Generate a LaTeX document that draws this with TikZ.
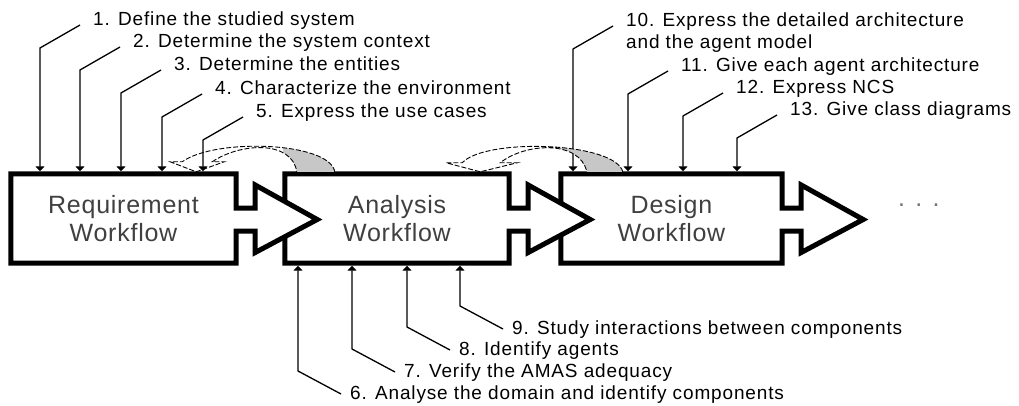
\documentclass[tikz,border=0pt]{standalone}
\usepackage{fontspec}
\setmainfont{Liberation Sans}
\newfontfamily\lblfont[LetterSpace=4.5]{Liberation Sans}
\newfontfamily\boxfont[LetterSpace=3]{Liberation Sans}
\usetikzlibrary{arrows.meta,calc}
\pgfdeclarelayer{background}
\pgfsetlayers{background,main}
\newcommand\wfshape[1]{%
  \draw[wf] (#1.north west) -- (#1.north east) -- ($(#1.east)+(0,-10.5)$)
    -- ($(#1.east)+(19,-10.5)$) -- ($(#1.east)+(19,-33.5)$)
    -- ($(#1.east)+(81,1)$) -- ($(#1.east)+(19,34)$)
    -- ($(#1.east)+(19,12.5)$) -- ($(#1.east)+(0,12.5)$)
    -- (#1.south east) -- (#1.south west) -- cycle;}
\begin{document}
\begin{tikzpicture}[x=1pt,y=-1pt,
  wf/.style={draw=black,line width=5pt,fill=white,miter limit=10},
  boxtxt/.style={font=\boxfont\fontsize{25}{28}\selectfont,text=black!75,
    align=center,inner sep=0pt,minimum height=89pt},
  lbl/.style={anchor=base west,inner sep=0pt,font=\lblfont\fontsize{19}{22}\selectfont},
  lead/.style={line width=1.3pt,shorten >=2.5pt,-{Triangle[width=9pt,length=5pt]}},
  loopline/.style={line width=0.9pt,dash pattern=on 5pt off 2pt},
  loopfill/.style={fill=black!22}]
\useasboundingbox (0,0) rectangle (1019,406);

% workflow boxes (text nodes, outlines drawn behind)
\node[boxtxt,minimum width=225pt] (req) at (123.5,218.5) {Requirement\\Workflow};
\node[boxtxt,minimum width=224pt] (ana) at (397,218.5) {Analysis\\Workflow};
\node[boxtxt,minimum width=221pt] (des) at (671.5,218.5) {Design\\Workflow};
\node[anchor=base west,inner sep=0pt,font=\boxfont\fontsize{25}{28}\selectfont,text=black!55] (more) at (898,207) {. . .};

\begin{pgfonlayer}{background}
\wfshape{des}
\wfshape{ana}
\wfshape{req}
\end{pgfonlayer}

% requirement activities
\node[lbl] (l1) at (93,26) {1. Define the studied system};
\node[lbl] (l2) at (133,48) {2. Determine the system context};
\node[lbl] (l3) at (174,71) {3. Determine the entities};
\node[lbl] (l4) at (215,95) {4. Characterize the environment};
\node[lbl] (l5) at (256,118) {5. Express the use cases};
\foreach \i in {1,...,5}{
  \draw[lead] ($(l\i.base west)+(-13,-1)$) -- ++(-40,23) coordinate (k\i) -- (k\i |- req.north);
}

% design activities
\node[lbl] (l10) at (626,27) {\begin{tabular}[t]{@{}l@{}}10. Express the detailed architecture\\and the agent model\end{tabular}};
\node[lbl] (l11) at (681,72) {11. Give each agent architecture};
\node[lbl] (l12) at (736,94) {12. Express NCS};
\node[lbl] (l13) at (790,116) {13. Give class diagrams};
\foreach \i in {10,...,13}{
  \draw[lead] ($(l\i.base west)+(-13,-1)$) -- ++(-40,23) coordinate (k\i) -- (k\i |- des.north);
}

% analysis activities
\node[lbl] (l6) at (350,399) {6. Analyse the domain and identify components};
\node[lbl] (l7) at (404,377) {7. Verify the AMAS adequacy};
\node[lbl] (l8) at (459,355) {8. Identify agents};
\node[lbl] (l9) at (512,334) {9. Study interactions between components};
\foreach \i in {6,...,9}{
  \draw[lead] ($(l\i.base west)+(-9,-5)$) -- ++(-43,-23) coordinate (k\i) -- (k\i |- ana.south);
}

% feedback loop analysis -> requirement
\coordinate (aR1) at ($(ana.north west)+(12,-2)$);
\coordinate (aR2) at ($(ana.north west)+(50,-2)$);
\coordinate (aO) at ($(req.north east)+(-54,-12)$);
\coordinate (aF1) at ($(req.north east)+(-66,-12)$);
\coordinate (aT) at ($(req.north east)+(-40,-2)$);
\coordinate (aF2) at ($(req.north east)+(-12,-12)$);
\coordinate (aI) at ($(req.north east)+(-24,-12)$);
\begin{scope}
  \clip (283,100) rectangle (345,172.5);
  \fill[loopfill] (aR1) -- (aR2) .. controls +(-5,-30) and +(33,-24) .. (aO)
    -- (aI) .. controls +(28,-19) and +(-5,-32) .. (aR1) -- cycle;
\end{scope}
\draw[loopline] (aR2) .. controls +(-5,-30) and +(33,-24) .. (aO)
  -- (aF1) -- (aT) -- (aF2) -- (aI) .. controls +(28,-19) and +(-5,-32) .. (aR1);

% feedback loop design -> analysis
\coordinate (bR1) at ($(des.north west)+(26,-2)$);
\coordinate (bR2) at ($(des.north west)+(62,-2)$);
\coordinate (bO) at ($(ana.north east)+(-47,-11)$);
\coordinate (bF1) at ($(ana.north east)+(-63,-11)$);
\coordinate (bT) at ($(ana.north east)+(-29,-2)$);
\coordinate (bF2) at ($(ana.north east)+(8,-11)$);
\coordinate (bI) at ($(ana.north east)+(-9,-11)$);
\begin{scope}
  \clip (560,100) rectangle (630,172.5);
  \fill[loopfill] (bR1) -- (bR2) .. controls +(-8,-30) and +(23,-25) .. (bO)
    -- (bI) .. controls +(25,-20) and +(-7,-32) .. (bR1) -- cycle;
\end{scope}
\draw[loopline] (bR2) .. controls +(-8,-30) and +(23,-25) .. (bO)
  -- (bF1) -- (bT) -- (bF2) -- (bI) .. controls +(25,-20) and +(-7,-32) .. (bR1);
\end{tikzpicture}
\end{document}
